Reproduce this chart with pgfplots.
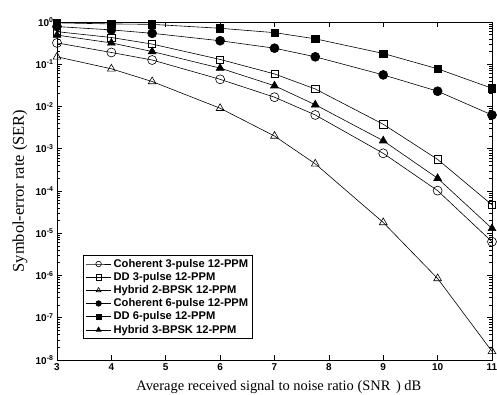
\documentclass[border=0pt]{standalone}
\usepackage{fontspec}
\setmainfont{Liberation Serif}
\setsansfont{Liberation Sans}
\usepackage{pgfplots}
\pgfplotsset{compat=1.18}
\begin{document}
\begin{tikzpicture}
\useasboundingbox (-57bp,-35bp) rectangle (440bp,360bp);
\begin{axis}[
  scale only axis, width=435bp, height=338bp,
  at={(0,0)}, anchor=south west,
  ymode=log, xmin=3, xmax=11, ymin=1e-8, ymax=1,
  xtick={3,4,5,6,7,8,9,10,11},
  ytick={1e-8,1e-7,1e-6,1e-5,1e-4,1e-3,1e-2,1e-1,1},
  yticklabels={\textbf{10}\textsuperscript{\textbf{-8}},\textbf{10}\textsuperscript{\textbf{-7}},\textbf{10}\textsuperscript{\textbf{-6}},\textbf{10}\textsuperscript{\textbf{-5}},\textbf{10}\textsuperscript{\textbf{-4}},\textbf{10}\textsuperscript{\textbf{-3}},\textbf{10}\textsuperscript{\textbf{-2}},\textbf{10}\textsuperscript{\textbf{-1}},\textbf{10}\textsuperscript{\textbf{0}}},
  /pgf/number format/assume math mode=true,
  ticklabel style={font=\sffamily\bfseries\fontsize{10}{10}\selectfont},
  tick align=inside, major tick length=5bp, minor tick length=3bp,
  tick style={black, line width=0.6bp},
  axis line style={line width=0.8bp},
  xlabel={Average received signal to noise ratio (SNR\textsubscript{\,\,\,}) dB},
  ylabel={Symbol-error rate (SER)},
  xlabel style={font=\fontsize{14.5}{15}\selectfont, at={(axis description cs:0.51,-0.080)}, anchor=center},
  ylabel style={font=\fontsize{16.5}{17}\selectfont, at={(axis description cs:-0.085,0.5)}, anchor=center},
  every axis plot/.append style={black, line width=0.6bp, mark options={solid, line width=0.6bp}},
  legend cell align=left,
  legend style={at={(0.06,0.062)}, anchor=south west, draw=black, line width=0.9bp,
    font=\sffamily\bfseries\fontsize{11.2}{12}\selectfont, row sep=-0.4bp, inner sep=2bp},
  legend image code/.code={\draw[#1, mark size=2.8bp, mark repeat=2, mark phase=2] plot coordinates {(0cm,0cm) (0.45cm,0cm) (0.9cm,0cm)};},
]
\addplot[mark=o, mark size=4.5bp] coordinates {(3,0.32) (4,0.19) (4.75,0.126) (6,0.044) (7,0.0166) (7.75,0.0063) (9,7.8e-4) (10,1.02e-4) (11,6.3e-6)};
\addlegendentry{Coherent 3-pulse 12-PPM}
\addplot[mark=square, mark size=3.6bp] coordinates {(3,0.59) (4,0.43) (4.75,0.30) (6,0.13) (7,0.059) (7.75,0.026) (9,0.0038) (10,5.6e-4) (11,4.7e-5)};
\addlegendentry{DD 3-pulse 12-PPM}
\addplot[mark=triangle, mark size=4.5bp] coordinates {(3,0.15) (4,0.078) (4.75,0.039) (6,0.0091) (7,0.002) (7.75,4.4e-4) (9,1.8e-5) (10,8.5e-7) (11,1.6e-8)};
\addlegendentry{Hybrid 2-BPSK 12-PPM}
\addplot[mark=*, mark size=4.5bp] coordinates {(3,0.78) (4,0.65) (4.75,0.54) (6,0.36) (7,0.24) (7.75,0.15) (9,0.056) (10,0.023) (11,0.0063)};
\addlegendentry{Coherent 6-pulse 12-PPM}
\addplot[mark=square*, mark size=3.6bp] coordinates {(3,0.955) (4,0.90) (4.75,0.88) (6,0.71) (7,0.56) (7.75,0.40) (9,0.18) (10,0.078) (11,0.027)};
\addlegendentry{DD 6-pulse 12-PPM}
\addplot[mark=triangle*, mark size=4.5bp] coordinates {(3,0.49) (4,0.32) (4.75,0.20) (6,0.081) (7,0.031) (7.75,0.011) (9,1.55e-3) (10,2.0e-4) (11,1.3e-5)};
\addlegendentry{Hybrid 3-BPSK 12-PPM}
\end{axis}
\end{tikzpicture}
\end{document}
